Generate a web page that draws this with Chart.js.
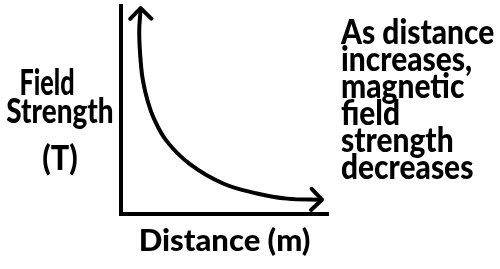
<!DOCTYPE html>
<html>
<head>
<meta charset="utf-8">
<script src="https://cdn.jsdelivr.net/npm/chart.js@4"></script>
<style>
  html, body { margin: 0; padding: 0; background: #fff; }
</style>
</head>
<body>
<canvas id="sketch" width="500" height="269"></canvas>
<script>
// Curve (arbitrary units, 0-10 on both axes)
const distance = [0.95, 0.88, 0.97, 1.08, 1.28, 1.57, 2.2, 3.33, 4.93, 6.57, 8.02, 9.71];
const fieldStrength = [9.9, 8.7, 7.1, 6.3, 5.46, 4.63, 3.51, 2.39, 1.46, 0.98, 0.73, 0.68];

const xTitle = "Distance (m)";
const yTitleLines = ["Field", "Strength", "(T)"];
const noteLines = ["As distance", "increases,", "magnetic", "field", "strength", "decreases"];

const handFont = "Lato, 'DejaVu Sans', sans-serif";

// draws an open arrow head at point b, pointing away from a
function drawChevron(ctx, a, b) {
    const ang = Math.atan2(b.y - a.y, b.x - a.x);
    const len = 15;
    ctx.beginPath();
    ctx.moveTo(b.x + len * Math.cos(ang + 2.36), b.y + len * Math.sin(ang + 2.36));
    ctx.lineTo(b.x, b.y);
    ctx.lineTo(b.x + len * Math.cos(ang - 2.36), b.y + len * Math.sin(ang - 2.36));
    ctx.stroke();
}

// the handwriting is tall and narrow, so squeeze the text a little
function narrowText(ctx, text, x, y, squeeze) {
    ctx.fillText(text, x, y, ctx.measureText(text).width * squeeze);
}

const sketchExtras = {
    id: "sketchExtras",
    afterDatasetsDraw(chart) {
        const ctx = chart.ctx;
        const pts = chart.getDatasetMeta(0).data;
        ctx.save();
        ctx.strokeStyle = "#000";
        ctx.lineWidth = 4;
        ctx.lineCap = "round";
        ctx.lineJoin = "round";
        drawChevron(ctx, pts[2], pts[0]);
        drawChevron(ctx, pts[pts.length - 2], pts[pts.length - 1]);
        ctx.restore();
    },
    afterDraw(chart) {
        const ctx = chart.ctx;
        const area = chart.chartArea;
        ctx.save();
        ctx.fillStyle = "#000";
        ctx.textBaseline = "alphabetic";

        // y axis label, written flat to the left of the axis
        ctx.textAlign = "center";
        ctx.font = "900 36px " + handFont;
        narrowText(ctx, yTitleLines[0], area.left - 74, 95, 0.7);
        ctx.font = "900 34px " + handFont;
        narrowText(ctx, yTitleLines[1], area.left - 61, 123, 0.82);
        narrowText(ctx, yTitleLines[2], area.left - 61, 170, 0.9);

        // note on the right
        ctx.textAlign = "left";
        noteLines.forEach((line, i) => {
            narrowText(ctx, line, area.right + 13, 44 + i * 27, 0.88);
        });
        ctx.restore();
    }
};

new Chart(document.getElementById("sketch"), {
    type: "line",
    data: {
        datasets: [{
            data: distance.map((d, i) => ({ x: d, y: fieldStrength[i] })),
            borderColor: "#000",
            borderWidth: 4,
            pointRadius: 0,
            tension: 0.4,
            fill: false
        }]
    },
    options: {
        responsive: false,
        animation: false,
        layout: {
            padding: { left: 121, right: 172, top: 6, bottom: 9 }
        },
        plugins: {
            legend: { display: false },
            tooltip: { enabled: false }
        },
        scales: {
            x: {
                type: "linear",
                min: 0,
                max: 10,
                grid: { display: false, drawTicks: false },
                ticks: { display: false },
                border: { color: "#000", width: 4 },
                title: {
                    display: true,
                    text: xTitle,
                    color: "#000",
                    font: { family: handFont, size: 31, weight: 900 },
                    padding: { top: 9, bottom: 0 }
                }
            },
            y: {
                type: "linear",
                min: 0,
                max: 10,
                grid: { display: false, drawTicks: false },
                ticks: { display: false },
                border: { color: "#000", width: 4 }
            }
        }
    },
    plugins: [sketchExtras]
});
</script>
</body>
</html>
